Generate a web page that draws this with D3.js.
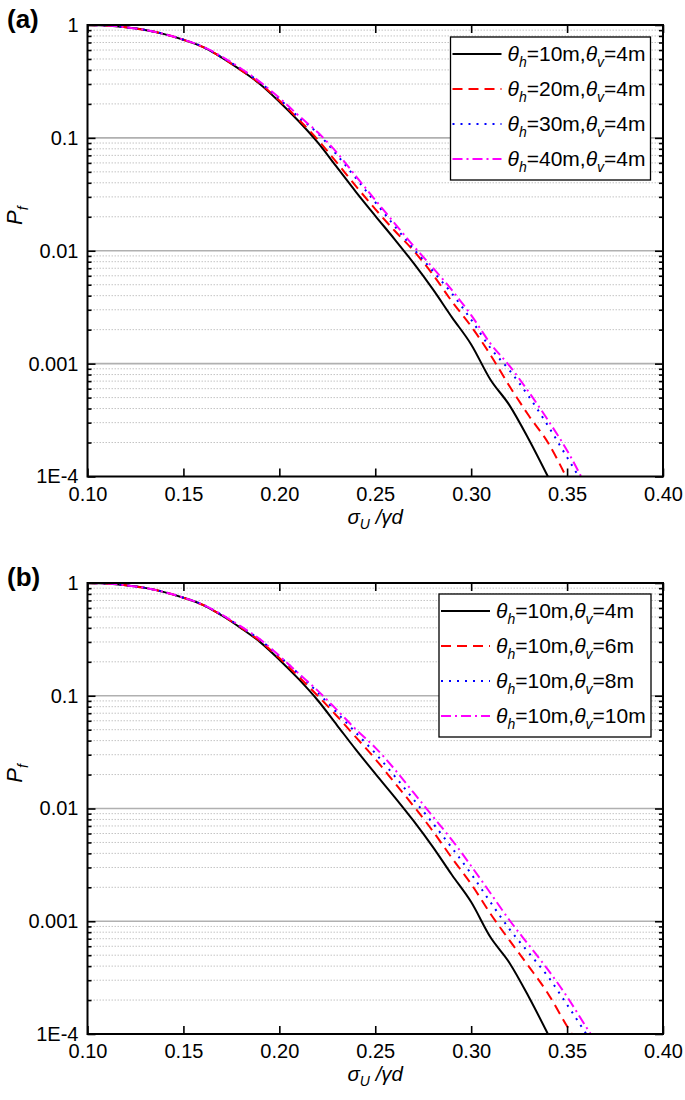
<!DOCTYPE html>
<html>
<head>
<meta charset="utf-8">
<script src="https://cdn.jsdelivr.net/npm/d3@7"></script>
<style>
  html, body { margin: 0; padding: 0; background: #fff; }
  svg { display: block; font-family: "Liberation Sans", Arial, sans-serif; }
</style>
</head>
<body>
<svg id="chart" width="685" height="1100"></svg>
<script>
// ---------- data ----------
const xs = [0.10,0.11,0.12,0.13,0.14,0.15,0.16,0.17,0.18,0.19,0.20,0.21,0.22,0.23,0.24,0.25,0.26,0.27,0.28,0.29,0.30,0.31,0.32,0.33,0.34,0.35,0.36,0.37];

// panel (a): theta_v = 4 m, theta_h varies
const a_h10 = [1,0.989,0.955,0.905,0.830,0.740,0.640,0.515,0.398,0.299,0.209,0.141,0.0912,0.0550,0.0331,0.0204,0.0127,0.00776,0.00457,0.00257,0.00148,7.24e-4,4.27e-4,2.14e-4,1.0e-4,null,null,null];
const a_h20 = [1,0.989,0.955,0.905,0.830,0.740,0.640,0.515,0.398,0.302,0.214,0.146,0.0966,0.0603,0.0372,0.0234,0.0151,0.0100,0.00617,0.00355,0.00214,0.00120,6.31e-4,3.47e-4,2.00e-4,9.55e-5,null,null];
const a_h30 = [1,0.989,0.955,0.905,0.830,0.741,0.642,0.519,0.407,0.309,0.221,0.153,0.110,0.0708,0.0437,0.0269,0.0166,0.0104,0.00661,0.00417,0.00245,0.00138,8.71e-4,5.13e-4,2.82e-4,1.48e-4,7.76e-5,null];
const a_h40 = [1,0.989,0.955,0.905,0.830,0.742,0.644,0.525,0.412,0.313,0.226,0.158,0.112,0.0741,0.0457,0.0282,0.0176,0.0110,0.00708,0.00447,0.00269,0.00151,9.55e-4,5.62e-4,3.16e-4,1.70e-4,8.13e-5,null];

// panel (b): theta_h = 10 m, theta_v varies
const b_v4  = [1,0.989,0.955,0.905,0.830,0.740,0.640,0.515,0.398,0.299,0.209,0.141,0.0912,0.0550,0.0331,0.0204,0.0127,0.00776,0.00457,0.00257,0.00148,7.24e-4,4.27e-4,2.14e-4,1.0e-4,null,null,null];
const b_v6  = [1,0.989,0.955,0.905,0.830,0.740,0.641,0.517,0.403,0.305,0.216,0.148,0.100,0.0661,0.0427,0.0275,0.0170,0.0105,0.00631,0.00363,0.00214,0.00117,6.76e-4,3.98e-4,2.29e-4,1.17e-4,6.31e-5,null];
const b_v8  = [1,0.989,0.955,0.905,0.830,0.741,0.643,0.520,0.407,0.313,0.224,0.157,0.107,0.0708,0.0468,0.0309,0.0195,0.0120,0.00741,0.00447,0.00263,0.00148,8.51e-4,5.25e-4,3.24e-4,1.82e-4,1.0e-4,null];
const b_v10 = [1,0.989,0.955,0.905,0.830,0.742,0.644,0.523,0.412,0.316,0.226,0.158,0.111,0.0750,0.0501,0.0347,0.0224,0.0138,0.00851,0.00525,0.00309,0.00178,0.00102,6.17e-4,3.72e-4,2.14e-4,1.15e-4,6.31e-5];

const xTickValues = [0.10,0.15,0.20,0.25,0.30,0.35,0.40];
const xTickLabels = ["0.10","0.15","0.20","0.25","0.30","0.35","0.40"];
const yTickValues = [1,0.1,0.01,0.001,1e-4];
const yTickLabels = ["1","0.1","0.01","0.001","1E-4"];

const legendA = [["10m","4m"],["20m","4m"],["30m","4m"],["40m","4m"]];
const legendB = [["10m","4m"],["10m","6m"],["10m","8m"],["10m","10m"]];
const panelLabels = ["(a)","(b)"];

// ---------- styles ----------
const seriesStyles = [
  {color:"#000000", dash:null},
  {color:"#ff0000", dash:"10,6"},
  {color:"#0000ff", dash:"2,6"},
  {color:"#ff00ff", dash:"10,4,2,4"}
];

const svg = d3.select("#chart");
const FONT = 20;
const LFONT = 21;

const x0 = 87.5, x1 = 663;

function minorVals() {
  const v = [];
  for (let e = -4; e < 0; e++) for (let m = 2; m <= 9; m++) v.push(m * Math.pow(10, e));
  return v;
}

function drawPanel(idx, top, bottom, seriesList, legendEntries, legendBox) {
  const g = svg.append("g");
  const x = d3.scaleLinear().domain([0.10,0.40]).range([x0,x1]);
  const y = d3.scaleLog().domain([1e-4,1]).range([bottom,top]);

  const clipId = "clip" + idx;
  g.append("clipPath").attr("id", clipId).append("rect")
    .attr("x", x0).attr("y", top).attr("width", x1 - x0).attr("height", bottom - top);

  // minor grid
  g.append("g").selectAll("line").data(minorVals()).join("line")
    .attr("x1", x0).attr("x2", x1)
    .attr("y1", d => y(d)).attr("y2", d => y(d))
    .attr("stroke", "#c4c4c4").attr("stroke-width", 1).attr("stroke-dasharray", "1.5,1.5");
  // major grid
  g.append("g").selectAll("line").data([0.1,0.01,0.001]).join("line")
    .attr("x1", x0).attr("x2", x1)
    .attr("y1", d => y(d)).attr("y2", d => y(d))
    .attr("stroke", "#b0b0b0").attr("stroke-width", 1.6);

  // curves
  const line = d3.line()
    .defined(d => d[1] != null)
    .x(d => x(d[0])).y(d => y(d[1]))
    .curve(d3.curveMonotoneX);
  const cg = g.append("g").attr("clip-path", `url(#${clipId})`);
  seriesList.forEach((vals, i) => {
    const pts = xs.map((xv, k) => [xv, vals[k]]);
    cg.append("path").datum(pts)
      .attr("d", line)
      .attr("fill", "none")
      .attr("stroke", seriesStyles[i].color)
      .attr("stroke-width", 2)
      .attr("stroke-dasharray", seriesStyles[i].dash);
  });

  // axes
  const fmtX = (d) => xTickLabels[xTickValues.findIndex(v => Math.abs(v - d) < 1e-9)];
  const fmtY = (d) => yTickLabels[yTickValues.findIndex(v => Math.abs(v - d) / v < 1e-6)];

  const axB = g.append("g").attr("transform", `translate(0,${bottom})`)
    .call(d3.axisBottom(x).tickValues(xTickValues).tickFormat(fmtX).tickSizeInner(-8).tickSizeOuter(0).tickPadding(7));
  const axT = g.append("g").attr("transform", `translate(0,${top})`)
    .call(d3.axisTop(x).tickValues(xTickValues).tickFormat("").tickSizeInner(-8).tickSizeOuter(0));
  const axL = g.append("g").attr("transform", `translate(${x0},0)`)
    .call(d3.axisLeft(y).tickValues(yTickValues).tickFormat(fmtY).tickSizeInner(-8).tickSizeOuter(0).tickPadding(9));
  const axLm = g.append("g").attr("transform", `translate(${x0},0)`)
    .call(d3.axisLeft(y).tickValues(minorVals()).tickFormat("").tickSizeInner(-4).tickSizeOuter(0));
  const axR = g.append("g").attr("transform", `translate(${x1},0)`)
    .call(d3.axisRight(y).tickValues(yTickValues).tickFormat("").tickSizeInner(-8).tickSizeOuter(0));
  const axRm = g.append("g").attr("transform", `translate(${x1},0)`)
    .call(d3.axisRight(y).tickValues(minorVals()).tickFormat("").tickSizeInner(-4).tickSizeOuter(0));
  [axB, axT, axL, axLm, axR, axRm].forEach(a => {
    a.select(".domain").remove();
    a.selectAll(".tick line").attr("stroke", "#000").attr("stroke-width", 1.6);
    a.selectAll(".tick text").attr("font-size", FONT).attr("fill", "#000")
      .attr("font-family", '"Liberation Sans", Arial, sans-serif');
  });
  axB.selectAll(".tick text").attr("dy", "0.85em");

  // frame
  g.append("rect").attr("x", x0).attr("y", top).attr("width", x1 - x0).attr("height", bottom - top)
    .attr("fill", "none").attr("stroke", "#000").attr("stroke-width", 2);

  // x axis title
  const xt = g.append("text").attr("x", (x0 + x1) / 2).attr("y", bottom + 47)
    .attr("text-anchor", "middle").attr("font-size", 20.5);
  xt.append("tspan").attr("font-style", "italic").text("σ");
  xt.append("tspan").attr("font-style", "italic").attr("font-size", 14).attr("dy", 5).text("U");
  xt.append("tspan").attr("dy", -5).attr("font-style", "italic").text(" /γd");

  // y axis title
  const yt = g.append("text")
    .attr("transform", `translate(22,${(top + bottom) / 2 - 35}) rotate(-90)`)
    .attr("text-anchor", "middle").attr("font-size", 22);
  yt.append("tspan").attr("font-style", "italic").text("P");
  yt.append("tspan").attr("font-style", "italic").attr("font-size", 14).attr("dy", 6).text("f");

  // panel label
  g.append("text").attr("x", 7).attr("y", top + 3)
    .attr("font-size", 26).attr("font-weight", "bold").text(panelLabels[idx]);

  // legend
  const lg = g.append("g");
  lg.append("rect").attr("x", legendBox.x).attr("y", legendBox.y)
    .attr("width", legendBox.w).attr("height", legendBox.h)
    .attr("fill", "#fff").attr("stroke", "#000").attr("stroke-width", 1.3);
  legendEntries.forEach((e, i) => {
    const cy = legendBox.y + 17 + i * 35;
    lg.append("line").attr("x1", legendBox.x + 2).attr("x2", legendBox.x + 51)
      .attr("y1", cy).attr("y2", cy)
      .attr("stroke", seriesStyles[i].color).attr("stroke-width", 2)
      .attr("stroke-dasharray", seriesStyles[i].dash);
    const t = lg.append("text").attr("x", legendBox.x + 57).attr("y", cy + 7).attr("font-size", LFONT);
    t.append("tspan").attr("font-style", "italic").text("θ");
    t.append("tspan").attr("font-style", "italic").attr("font-size", 14).attr("dy", 6).text("h");
    t.append("tspan").attr("dy", -6).text("=" + e[0] + ",");
    t.append("tspan").attr("font-style", "italic").text("θ");
    t.append("tspan").attr("font-style", "italic").attr("font-size", 14).attr("dy", 6).text("v");
    t.append("tspan").attr("dy", -6).text("=" + e[1]);
  });
}

drawPanel(0, 25, 476.5, [a_h10, a_h20, a_h30, a_h40], legendA, {x: 450.5, y: 37, w: 200, h: 143});
drawPanel(1, 583, 1034, [b_v4, b_v6, b_v8, b_v10], legendB, {x: 439, y: 594, w: 212, h: 143});
</script>
</body>
</html>
